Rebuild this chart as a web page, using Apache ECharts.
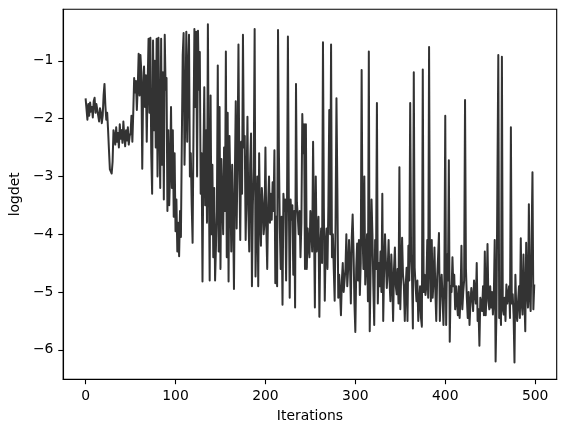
<!DOCTYPE html>
<html>
<head>
    <meta charset="utf-8">
    <title>logdet</title>
    <script type="text/javascript" src="https://cdn.jsdelivr.net/npm/echarts@6/dist/echarts.min.js"></script>
    <style type="text/css">
        body{ margin:0; background:#fff; }
        #main{ width:565px; height:432px; }
    </style>
</head>
<body>
    <div id="main"></div>
    <script type="text/javascript">
        // logdet per iteration
        var logdet = [
            -1.65, -1.68, -2.02, -1.75, -1.95, -1.72, -1.88, -1.8, -1.98, -1.7,
            -1.64, -1.9, -1.75, -1.85, -1.95, -2.05, -1.82, -1.9, -2.08, -1.95,
            -1.6, -1.4, -1.78, -2.02, -1.9, -2.2, -2.55, -2.88, -2.85, -2.95,
            -2.75, -2.2, -2.3, -2.45, -2.15, -2.4, -2.25, -2.5, -2.1, -2.35,
            -2.2, -2.42, -2.05, -2.3, -2.48, -2.2, -2.38, -2.15, -2.45, -2.3,
            -2.25, -1.95, -2.4, -1.9, -1.3, -1.55, -1.35, -1.85, -1.45, -0.88,
            -1.6, -0.9, -1.2, -2.87, -1.5, -1.1, -1.8, -1.25, -2.4, -1.4,
            -0.62, -1.9, -0.6, -2.6, -3.3, -0.65, -2.2, -1.0, -2.5, -0.62,
            -3.0, -0.6, -2.1, -3.2, -0.62, -2.8, -1.2, -3.4, -0.55, -1.5,
            -1.3, -3.6, -2.2, -3.5, -2.9, -1.8, -3.2, -2.2, -3.7, -2.6,
            -3.95, -3.4, -4.3, -3.8, -4.38, -3.6, -4.05, -2.4, -0.9, -0.52,
            -2.8, -1.9, -0.5, -2.4, -1.2, -0.55, -3.0, -2.6, -3.5, -4.15,
            -2.2, -0.45, -1.8, -0.5, -3.0, -0.48, -1.5, -0.85, -3.3, -2.6,
            -4.82, -2.7, -1.46, -3.5, -2.2, -3.8, -0.37, -2.9, -4.8, -1.6,
            -4.0, -2.8, -4.4, -3.2, -4.8, -4.2, -3.6, -1.08, -4.3, -1.8,
            -4.6, -2.7, -3.4, -4.0, -2.5, -3.6, -0.84, -4.4, -1.9, -4.82,
            -2.3, -3.2, -4.3, -2.8, -3.6, -4.95, -3.0, -1.7, -3.9, -2.6,
            -0.72, -2.9, -4.1, -2.4, -3.3, -0.55, -2.5, -2.3, -4.1, -3.2,
            -1.97, -3.6, -4.3, -2.8, -2.26, -4.9, -3.5, -2.84, -0.45, -4.73,
            -3.8, -3.0, -4.9, -2.6, -3.7, -4.2, -3.2, -3.45, -4.0, -3.8,
            -2.5, -3.9, -4.6, -3.5, -3.0, -3.8, -3.3, -3.75, -3.1, -3.6,
            -2.55, -4.85, -3.7, -4.9, -0.47, -2.6, -3.9, -4.6, -3.7, -5.22,
            -3.3, -3.6, -3.4, -4.8, -3.5, -0.58, -3.35, -5.1, -3.4, -3.75,
            -3.5, -4.7, -3.6, -5.27, -1.4, -3.45, -3.7, -4.0, -3.6, -4.4,
            -3.8, -1.92, -2.6, -2.1, -4.6, -2.1, -4.6, -3.9, -4.2, -4.4,
            -3.6, -3.9, -4.3, -2.4, -3.8, -5.27, -3.0, -4.3, -4.0, -3.7,
            -5.43, -4.2, -3.9, -4.5, -0.68, -3.55, -5.15, -4.2, -3.9, -4.6,
            -3.5, -1.85, -4.0, -0.72, -4.4, -4.0, -4.6, -5.15, -3.8, -1.65,
            -3.2, -5.1, -4.7, -5.0, -5.4, -4.8, -4.5, -5.0, -4.8, -4.6,
            -4.0, -4.9, -4.6, -4.1, -4.5, -5.2, -4.06, -3.66, -4.3, -5.2,
            -5.69, -4.6, -4.16, -4.8, -4.1, -5.05, -4.5, -1.16, -4.0, -4.6,
            -3.0, -4.87, -4.5, -4.0, -5.16, -0.84, -5.68, -4.6, -3.4, -4.0,
            -4.9, -5.57, -4.1, -4.6, -1.73, -5.2, -4.5, -4.9, -4.3, -5.0,
            -3.3, -5.5, -4.6, -4.0, -4.5, -4.93, -4.6, -4.1, -4.8, -5.16,
            -4.35, -4.8, -5.5, -4.6, -4.23, -4.9, -5.04, -4.6, -5.2, -2.84,
            -5.3, -4.7, -4.06, -4.7, -4.9, -5.5, -4.9, -4.58, -5.5, -4.2,
            -4.8, -1.73, -4.35, -4.7, -5.63, -1.2, -4.58, -4.9, -5.16, -4.8,
            -5.5, -5.16, -4.9, -5.45, -5.6, -1.15, -5.0, -4.7, -5.05, -4.9,
            -4.1, -5.1, -0.76, -4.6, -5.16, -4.1, -5.1, -4.8, -4.23, -5.0,
            -5.5, -4.75, -4.4, -3.98, -5.5, -4.9, -4.7, -5.1, -5.57, -4.8,
            -1.95, -5.57, -4.35, -4.8, -2.72, -5.86, -4.9, -5.0, -4.4, -4.9,
            -4.7, -5.3, -4.9, -4.87, -5.4, -4.9, -5.45, -5.1, -4.2, -5.3,
            -5.0, -4.8, -1.68, -4.6, -5.1, -5.45, -5.0, -5.57, -5.2, -4.93,
            -5.1, -5.33, -4.8, -4.99, -5.2, -4.5, -5.5, -5.3, -5.93, -5.1,
            -5.1, -5.33, -4.9, -5.4, -4.3, -5.4, -5.0, -4.17, -5.16, -5.3,
            -4.9, -5.27, -5.0, -5.39, -5.1, -4.1, -6.2, -5.3, -5.27, -0.9,
            -5.45, -5.2, -5.57, -0.93, -5.3, -5.39, -5.1, -5.5, -4.87, -5.2,
            -5.04, -4.9, -5.45, -2.15, -5.2, -5.04, -5.4, -6.22, -4.7, -5.3,
            -5.5, -5.16, -4.9, -5.45, -4.07, -5.2, -5.39, -4.35, -5.1, -5.68,
            -4.15, -5.0, -5.27, -3.48, -5.1, -5.33, -4.1, -2.93, -5.3, -4.87
        ];
        var xTicks = [0, 100, 200, 300, 400, 500];
        var yTicks = [-6, -5, -4, -3, -2, -1];

        var points = logdet.map(function (v, i) { return [i, v]; });

        var myChart = echarts.init(document.getElementById('main'), null, {renderer: 'canvas'});

        var tickFont = {
            color: '#000',
            fontSize: 13.9,
            fontFamily: 'DejaVu Sans'
        };
        function minus(v) {
            return v < 0 ? '\u2212' + Math.abs(v) : String(v);
        }

        var option = {
            animation: false,
            backgroundColor: '#fff',
            grid: {
                left: 60.5,
                right: 8.3,
                top: 9.3,
                bottom: 52.7,
                show: true,
                borderColor: '#000',
                borderWidth: 1.1,
                containLabel: false
            },
            xAxis: {
                type: 'value',
                min: -24.95,
                max: 523.95,
                name: 'Iterations',
                nameLocation: 'middle',
                nameGap: 30,
                nameTextStyle: tickFont,
                splitLine: {show: false},
                axisLine: {show: true, onZero: false, lineStyle: {color: '#000', width: 1.1}},
                axisTick: {show: true, length: 4.9, customValues: xTicks, lineStyle: {color: '#000', width: 1.1}},
                axisLabel: Object.assign({margin: 9.8, customValues: xTicks, formatter: minus}, tickFont)
            },
            yAxis: {
                type: 'value',
                min: -6.51,
                max: -0.11,
                name: 'logdet',
                nameLocation: 'middle',
                nameGap: 31,
                nameTextStyle: tickFont,
                splitLine: {show: false},
                axisLine: {show: true, onZero: false, lineStyle: {color: '#000', width: 1.1}},
                axisTick: {show: true, length: 4.9, customValues: yTicks, lineStyle: {color: '#000', width: 1.1}},
                axisLabel: Object.assign({margin: 9.8, customValues: yTicks, formatter: minus}, tickFont)
            },
            series: [{
                name: 'logdet',
                type: 'line',
                data: points,
                showSymbol: false,
                symbol: 'none',
                lineStyle: {color: '#333333', width: 2.0, join: 'round'},
                emphasis: {disabled: true}
            }]
        };

        myChart.setOption(option);
    </script>
</body>
</html>
